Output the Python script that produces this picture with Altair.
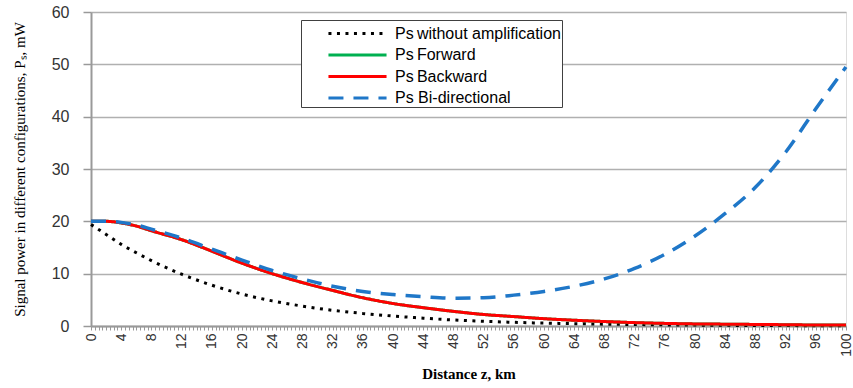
import altair as alt
import pandas as pd

km = [0, 2, 4, 6, 8, 12, 16, 20, 24, 28, 32, 36, 40, 44, 48, 52, 56, 60,
      64, 68, 72, 76, 80, 84, 88, 92, 96, 100]

ps_without = [19.4, 17.5, 15.6, 14.0, 12.5, 9.9, 7.8, 6.1, 4.8, 3.8, 3.0, 2.4,
              1.9, 1.5, 1.15, 0.9, 0.7, 0.55, 0.45, 0.35, 0.28, 0.22, 0.17,
              0.13, 0.1, 0.08, 0.06, 0.05]
ps_forward = [20, 20, 19.7, 19.1, 18.2, 16.5, 14.3, 12.0, 10.0, 8.3, 6.8, 5.4,
              4.3, 3.5, 2.8, 2.2, 1.8, 1.4, 1.1, 0.85, 0.65, 0.5, 0.4, 0.35,
              0.3, 0.25, 0.2, 0.2]
ps_backward = [20, 20, 19.7, 19.1, 18.2, 16.5, 14.3, 12.0, 10.0, 8.3, 6.8, 5.4,
               4.3, 3.5, 2.8, 2.2, 1.8, 1.4, 1.1, 0.85, 0.65, 0.5, 0.4, 0.35,
               0.3, 0.25, 0.2, 0.2]
ps_bidir = [20, 20, 19.8, 19.3, 18.5, 16.8, 14.7, 12.6, 10.6, 9.0, 7.6, 6.6,
            6.0, 5.6, 5.3, 5.4, 5.9, 6.6, 7.6, 9.0, 11.0, 13.7, 17.2, 21.5,
            26.5, 33.2, 41.5, 49.5]

series_names = ["Ps\u2009without amplification", "Ps\u2009Forward",
                "Ps\u2009Backward", "Ps Bi-directional"]
series_colors = ["#000000", "#00b050", "#ff0000", "#1f77c8"]
series_dash = [[3, 5.5], [1, 0], [1, 0], [15, 10]]
series_width = [3, 3, 3, 3.5]
series_values = [ps_without, ps_forward, ps_backward, ps_bidir]

rows = []
for name, vals in zip(series_names, series_values):
    for z, v in zip(km, vals):
        rows.append({"z": z, "P": v, "series": name})
df = pd.DataFrame(rows)

tick_vals = [i * 0.5 for i in range(201)]

x_enc = alt.X("z:Q", scale=alt.Scale(domain=[0, 100], nice=False),
              axis=alt.Axis(values=tick_vals,
                            labelExpr="datum.value % 4 === 0 ? format(datum.value, 'd') : ''",
                            labelAngle=270, labelOverlap=False, labelFlush=False,
                            labelFont="Liberation Sans", labelFontSize=14,
                            labelColor="#333333", labelPadding=3,
                            tickSize=4, tickColor="#999999", tickWidth=1,
                            domainColor="#999999", domainWidth=2, grid=False,
                            title="Distance z, km", titleFont="Liberation Serif",
                            titleFontWeight="bold", titleFontSize=15,
                            titleColor="#000000", titlePadding=10))
y_enc = alt.Y("P:Q", scale=alt.Scale(domain=[0, 60], nice=False),
              axis=alt.Axis(values=[0, 10, 20, 30, 40, 50, 60],
                            labelFont="Liberation Sans", labelFontSize=16,
                            labelColor="#333333", labelPadding=14,
                            tickSize=8, tickColor="#999999", tickWidth=1.5,
                            domainColor="#999999", domainWidth=2,
                            gridColor="#b0b0b0", gridWidth=1.5,
                            title="Signal power in different configurations, P\u209b, mW",
                            titleFont="Liberation Serif", titleFontWeight="normal",
                            titleFontSize=15, titleColor="#000000",
                            titlePadding=24))
color_enc = alt.Color("series:N",
                      scale=alt.Scale(domain=series_names, range=series_colors),
                      legend=alt.Legend(title=None, orient="none",
                                        legendX=210, legendY=8,
                                        fillColor="#ffffff", strokeColor="#404040",
                                        padding=1, symbolType="M-2.64,0H2.64",
                                        symbolSize=484, symbolStrokeWidth=3,
                                        symbolOffset=43,
                                        labelFont="Liberation Sans",
                                        labelFontSize=16, labelColor="#000000",
                                        labelOffset=25, rowPadding=0.5,
                                        labelLimit=400))
dash_enc = alt.StrokeDash("series:N",
                          scale=alt.Scale(domain=series_names, range=series_dash),
                          legend=None)

layers = []
for name, w in zip(series_names, series_width):
    layers.append(
        alt.Chart(df).transform_filter(alt.datum.series == name)
        .mark_line(strokeWidth=w, interpolate="monotone")
        .encode(x=x_enc, y=y_enc, color=color_enc, strokeDash=dash_enc)
    )

chart = alt.layer(*layers).properties(
    width=755, height=314,
    autosize=alt.AutoSizeParams(type="none"),
    padding={"left": 91, "top": 12, "right": 7, "bottom": 62},
).configure_view(stroke=None).configure(background="#ffffff")

chart.save("out.html", embed_options={"renderer": "svg", "actions": False})
